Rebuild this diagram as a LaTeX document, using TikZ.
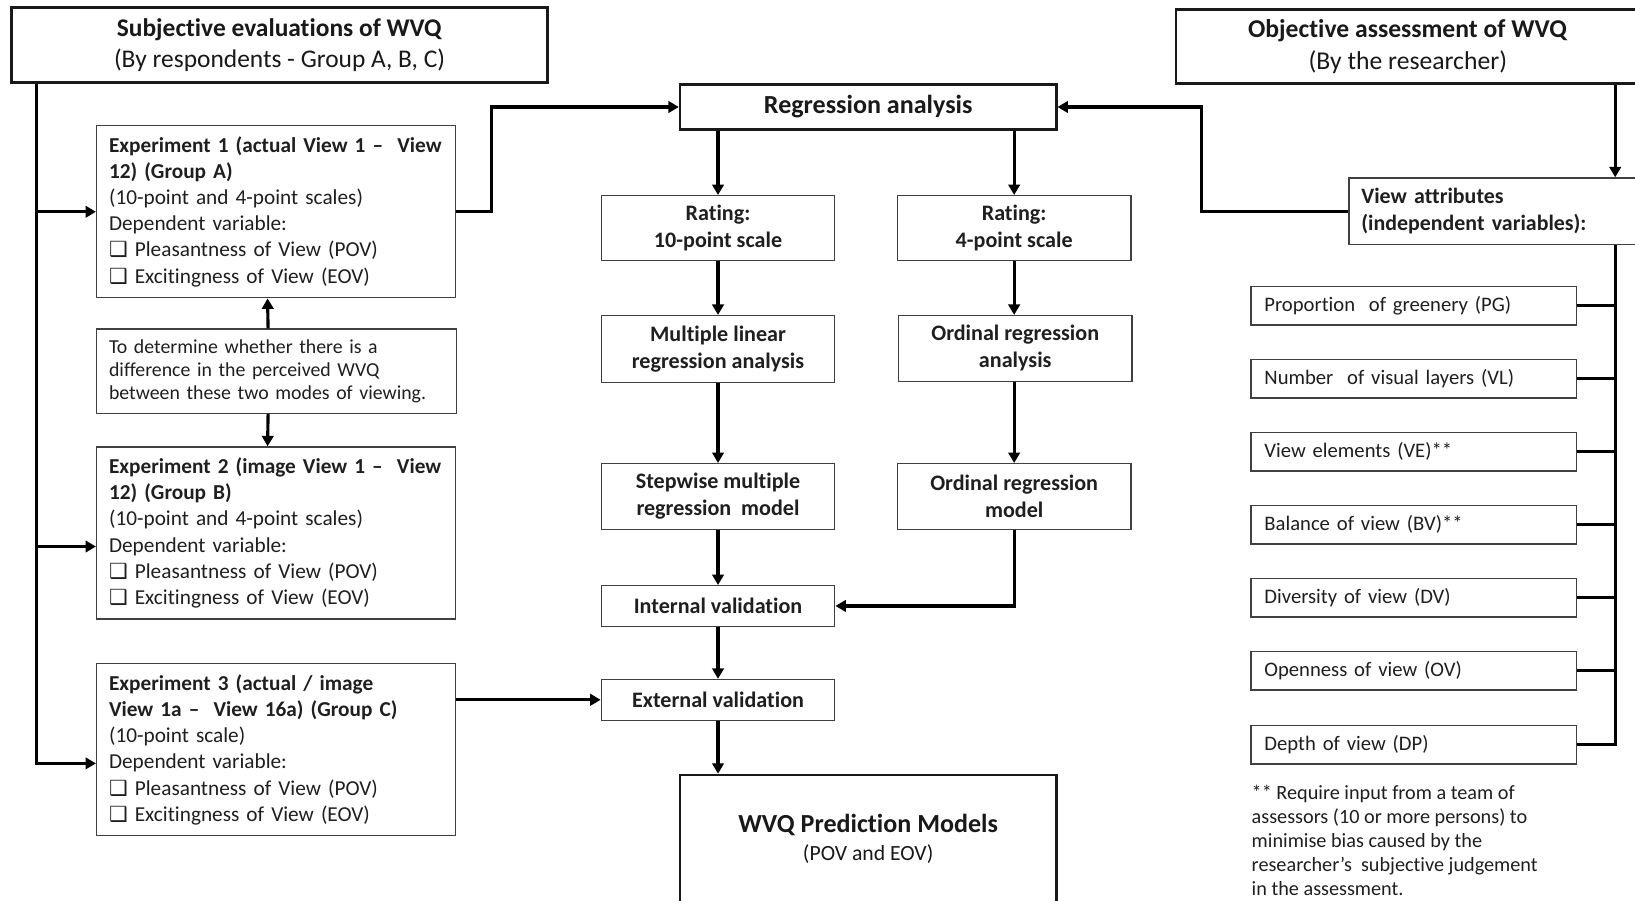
\documentclass[tikz,border=0pt]{standalone}
\usepackage{fontspec}
\setmainfont{Carlito}[Ligatures={NoCommon,NoRare}]
\newfontfamily\dejavu{DejaVu Sans}
\usetikzlibrary{arrows.meta,calc}
\newcommand{\cbx}{{\dejavu\fontsize{10pt}{10pt}\selectfont ❑}}
\begin{document}
\begin{tikzpicture}[x=0.5pt,y=-0.5pt,
  bigbox/.style={draw=black!90, line width=1.1pt, inner sep=0pt, text=black!90, align=center},
  smallbox/.style={draw=black!75, line width=0.6pt, inner sep=0pt, text=black!88},
  leftbox/.style={smallbox, inner xsep=6pt, align=left, anchor=north west},
  midbox/.style={smallbox, align=center, anchor=north west, minimum width=112pt,
     font=\fontsize{10.6pt}{13pt}\selectfont\bfseries},
  itembox/.style={smallbox, inner xsep=6.5pt, align=left, anchor=north west,
     minimum height=18.5pt, text width=143pt, font=\fontsize{9.9pt}{12pt}\selectfont},
  conn/.style={line width=1.5pt, black},
  arr/.style={conn, -{Triangle[length=5pt,width=5.5pt]}}]
\useasboundingbox (0,0) rectangle (1568,864);
\clip (0,0) rectangle (1568,864);
\fill[white] (0,0) rectangle (1568,864);

% top boxes
\node[bigbox, anchor=north west, minimum width=257pt, minimum height=36pt,
  font=\fontsize{12.2pt}{15pt}\selectfont] (subj) at (10,6)
  {\textbf{Subjective evaluations of WVQ}\\(By respondents - Group A, B, C)};
\node[bigbox, anchor=north west, minimum width=222pt, minimum height=35.5pt,
  font=\fontsize{12.3pt}{15pt}\selectfont] (obj) at (1127,8)
  {\textbf{Objective assessment of WVQ}\\(By the researcher)};

% experiments
\node[leftbox, minimum height=82.5pt, text width=160pt,
  font=\fontsize{10.2pt}{12.5pt}\selectfont] (exp1) at (92,120)
  {\textbf{Experiment 1 (actual View 1 –~ View}\\\textbf{12) (Group A)}\\(10-point and 4-point scales)\\Dependent variable:\\\cbx\ Pleasantness of View (POV)\\\cbx\ Excitingness of View (EOV)};
\node[leftbox, minimum height=40.5pt, text width=160.5pt,
  font=\fontsize{9.5pt}{11pt}\selectfont] (note) at (92,315)
  {To determine whether there is a\\difference in the perceived WVQ\\between these two modes of viewing.};
\node[leftbox, minimum height=82.5pt, text width=160pt,
  font=\fontsize{10.2pt}{12.5pt}\selectfont] (exp2) at (92,428)
  {\textbf{Experiment 2 (image View 1 –~ View}\\\textbf{12) (Group B)}\\(10-point and 4-point scales)\\Dependent variable:\\\cbx\ Pleasantness of View (POV)\\\cbx\ Excitingness of View (EOV)};
\node[leftbox, minimum height=82.5pt, text width=160pt,
  font=\fontsize{10.2pt}{12.5pt}\selectfont] (exp3) at (92,636)
  {\textbf{Experiment 3 (actual / image}\\\textbf{View 1a –~ View 16a) (Group C)}\\(10-point scale)\\Dependent variable:\\\cbx\ Pleasantness of View (POV)\\\cbx\ Excitingness of View (EOV)};

% center column
\node[bigbox, anchor=north west, minimum width=180.5pt, minimum height=21.5pt,
  font=\fontsize{12.5pt}{14pt}\selectfont\bfseries] (reg) at (651,80) {Regression analysis};
\node[midbox, minimum height=31pt] (r10) at (576,187) {Rating:\\10-point scale};
\node[midbox, minimum height=31pt] (r4) at (860,187) {Rating:\\4-point scale};
\node[midbox, minimum height=32pt] (mlr) at (576,302) {Multiple linear\\regression analysis};
\node[midbox, minimum height=31.5pt] (ora) at (861,302) {Ordinal regression\\analysis};
\node[midbox, minimum height=31.5pt] (step) at (576,444) {Stepwise multiple\\regression~ model};
\node[midbox, minimum height=31.5pt] (orm) at (860,444) {Ordinal regression\\model};
\node[midbox, minimum height=19.5pt] (intv) at (576,561) {Internal validation};
\node[midbox, minimum height=19.5pt] (extv) at (576,651) {External validation};
\node[bigbox, anchor=north west, minimum width=180.5pt, minimum height=61pt] (wvq) at (651,742)
  {{\fontsize{12.5pt}{14pt}\selectfont\bfseries WVQ Prediction Models}\\[1.5pt]{\fontsize{10.4pt}{12pt}\selectfont (POV and EOV)}};

% right column
\node[leftbox, minimum height=32pt, text width=138pt,
  font=\fontsize{10.5pt}{13pt}\selectfont\bfseries] (va) at (1293,170)
  {View attributes\\(independent variables):};
\node[itembox] (pg) at (1199,274) {Proportion~ of greenery (PG)};
\node[itembox] (vl) at (1199,344) {Number~ of visual layers (VL)};
\node[itembox] (ve) at (1199,414) {View elements (VE)**};
\node[itembox] (bv) at (1199,484) {Balance of view (BV)**};
\node[itembox] (dv) at (1199,554) {Diversity of view (DV)};
\node[itembox] (ov) at (1199,624) {Openness of view (OV)};
\node[itembox] (dp) at (1199,695) {Depth of view (DP)};
\node[anchor=north west, inner sep=0pt, align=left, text=black!88,
  font=\fontsize{9.7pt}{11.5pt}\selectfont] (fn) at (1200,753)
  {** Require input from a team of\\assessors (10 or more persons) to\\minimise bias caused by the\\researcher’s~ subjective judgement\\in the assessment.};

% coordinates
\coordinate (trunk) at ($(subj.south west)+(25,0)$);
\coordinate (bx) at (1549,0);

% left trunk
\draw[arr] (trunk) |- ($(exp3.west)+(0,13)$);
\draw[arr] (trunk |- exp1.west) -- (exp1.west);
\draw[arr] ($(trunk |- exp2.west)+(0,13)$) -- ($(exp2.west)+(0,13)$);

% experiment 1 to regression
\draw[arr] (exp1.east) -- ++(34,0) |- (reg.west);
% note arrows
\draw[arr] ($(note.north)+(-8,0)$) -- ($(exp1.south)+(-8,0)$);
\draw[arr] ($(note.south)+(-8,0)$) -- ($(exp2.north)+(-8,0)$);

% centre flows
\draw[arr] (reg.south -| r10.north) -- (r10.north);
\draw[arr] (reg.south -| r4.north) -- (r4.north);
\draw[arr] (r10) -- (mlr);
\draw[arr] (r4.south) -- (r4.south |- ora.north);
\draw[arr] (mlr) -- (step);
\draw[arr] (r4.south |- ora.south) -- (r4.south |- orm.north);
\draw[arr] (step) -- (intv);
\draw[arr] (r4.south |- orm.south) |- (intv.east);
\draw[arr] (intv) -- (extv);
\draw[arr] (extv.south) -- (extv.south |- wvq.north);
\draw[arr] (exp3.east |- extv.west) -- (extv.west);

% right side
\draw[arr] (bx |- obj.south) -- (bx |- va.north);
\draw[arr] (va.west) -- ++(-141,0) |- (reg.east);
\draw[conn] (bx |- va.south) |- (dp.east);
\foreach \n in {pg,vl,ve,bv,dv,ov} \draw[conn] (\n.east) -- (\n.east -| bx);
\end{tikzpicture}
\end{document}
